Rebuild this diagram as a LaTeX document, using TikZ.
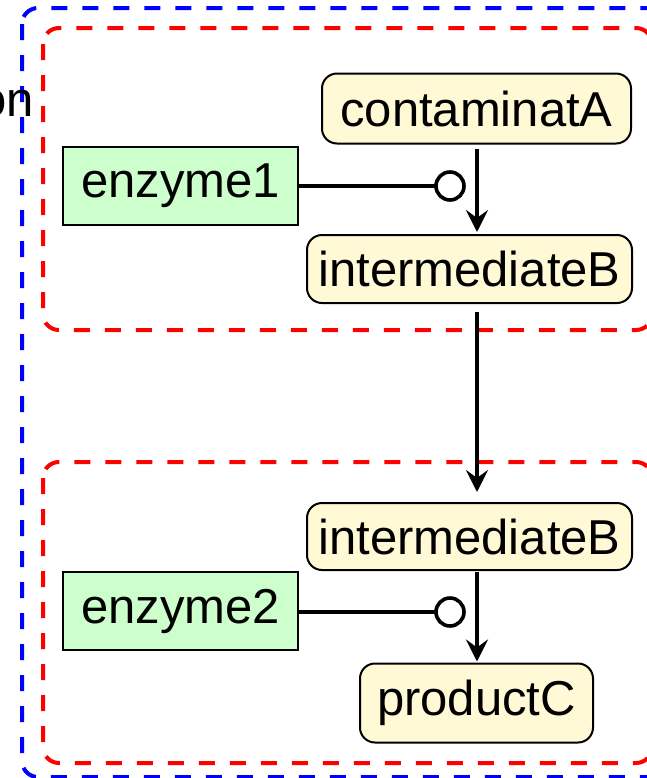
\documentclass[tikz,border=0pt]{standalone}
\usepackage{fontspec}
\setmainfont{Liberation Sans}
\usetikzlibrary{arrows.meta,calc}
\definecolor{molfill}{RGB}{255,249,214}
\definecolor{enzfill}{RGB}{204,255,204}
\begin{document}
\begin{tikzpicture}[x=0.5pt,y=-0.5pt,
  every node/.style={font=\fontsize{24.5}{29}\selectfont, inner sep=0pt, outer sep=0pt},
  mol/.style={draw=black, line width=1pt, fill=molfill, rounded corners=7.5pt},
  enz/.style={draw=black, line width=1pt, fill=enzfill},
  inhib/.style={draw=black, line width=1.8pt, fill=white, circle, minimum size=14pt},
  conn/.style={line width=1.8pt, -{Stealth[length=11pt,width=11pt,inset=4pt]}},
  bluebox/.style={draw=blue, line width=2pt, dash pattern=on 8pt off 7.5pt, rounded corners=8pt},
  redbox/.style={draw=red, line width=2pt, dash pattern=on 8pt off 7.5pt, rounded corners=8pt}]
\useasboundingbox (0,0) rectangle (647,778);
\draw[bluebox] (22,8) rectangle (720,777);
\draw[redbox] (43,28) rectangle (652,330);
\draw[redbox] (43,462) rectangle (652,763);
\node[anchor=east] (lbl) at (34,104) {on};
\node[mol, minimum width=154.5pt, minimum height=35pt] (cA) at (476.5,108.5) {contaminatA};
\node[enz, minimum width=117.5pt, minimum height=39pt] (e1) at (180.5,186) {enzyme1};
\node[mol, minimum width=162.5pt, minimum height=34pt] (iB1) at (469.5,269) {intermediateB};
\node[mol, minimum width=162.5pt, minimum height=33.5pt] (iB2) at (469.5,536.5) {intermediateB};
\node[enz, minimum width=117.5pt, minimum height=39pt] (e2) at (180.5,611) {enzyme2};
\node[mol, minimum width=116.5pt, minimum height=39.5pt] (pC) at (476.5,703) {productC};
\node[inhib] (c1) at (450,186) {};
\node[inhib] (c2) at (450,612) {};
\coordinate (x1) at (477,0);
\draw[conn, shorten <=2.5pt, shorten >=1.5pt] (cA.south -| x1) -- (iB1.north -| x1);
\draw[conn, shorten <=4.5pt, shorten >=5.5pt] (iB1.south -| x1) -- (iB2.north -| x1);
\draw[conn, shorten <=1pt, shorten >=1pt] (iB2.south -| x1) -- (pC.north -| x1);
\draw[line width=1.8pt] (e1.east) -- (c1.west);
\draw[line width=1.8pt] (e2.east |- c2) -- (c2.west);
\end{tikzpicture}
\end{document}
